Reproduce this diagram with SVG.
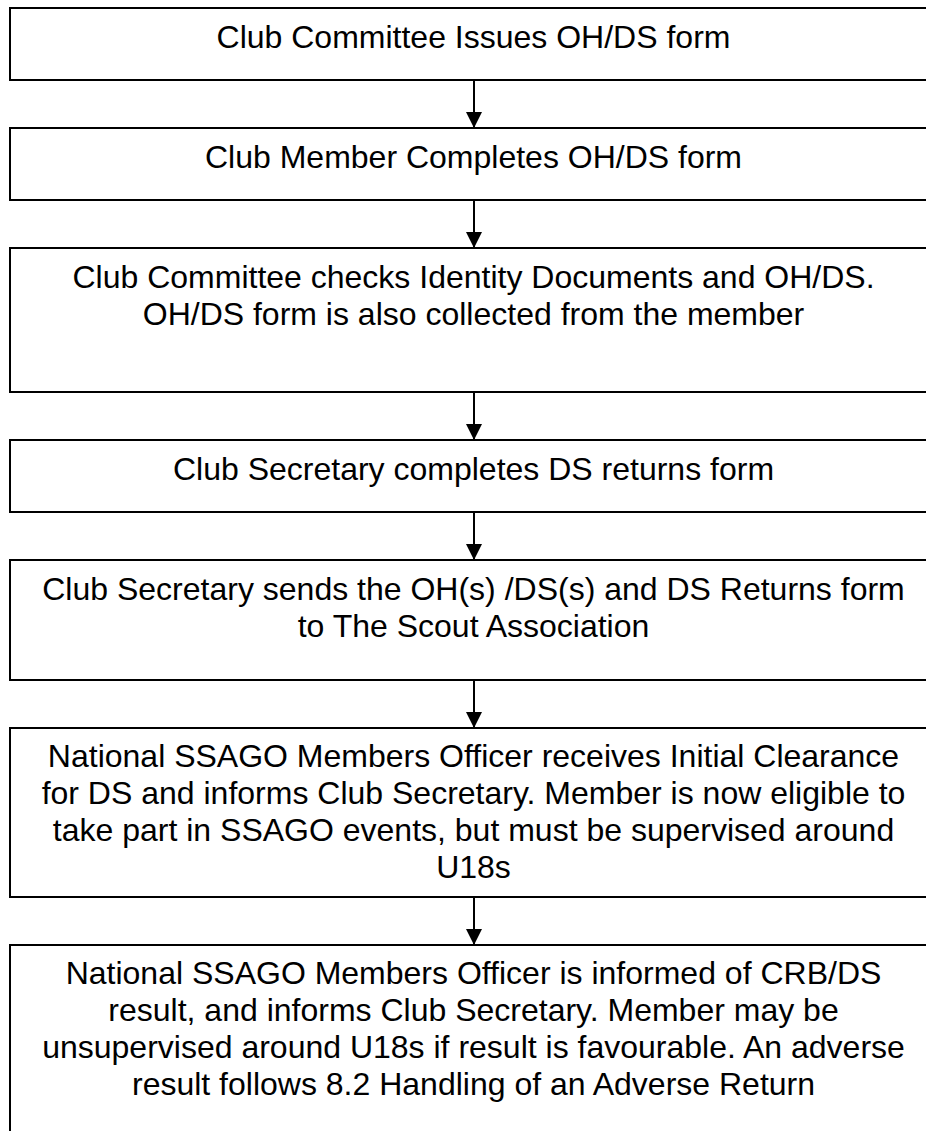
<svg xmlns="http://www.w3.org/2000/svg" width="926" height="1131" viewBox="0 0 926 1131">
<style>
.box{fill:#fff;stroke:#000;stroke-width:2}
.t{font-family:"Liberation Sans",Arial,sans-serif;font-size:32px;fill:#000;text-anchor:middle}
.c{stroke:#000;stroke-width:2;fill:none;marker-end:url(#ah)}
</style>
<defs>
<marker id="ah" viewBox="0 0 16 16" refX="16" refY="8" markerWidth="16" markerHeight="16" markerUnits="userSpaceOnUse" orient="auto">
<path d="M0,0 L16,8 L0,16 z" fill="#000"/>
</marker>
</defs>
<rect width="926" height="1131" fill="#fff"/>
<g id="n1"><rect class="box" x="10" y="8" width="927" height="72"/>
<text class="t" x="473.5" y="48">Club Committee Issues OH/DS form</text></g>
<g id="n2"><rect class="box" x="10" y="128" width="927" height="72"/>
<text class="t" x="473.5" y="168">Club Member Completes OH/DS form</text></g>
<g id="n3"><rect class="box" x="10" y="248" width="927" height="144"/>
<text class="t" x="473.5" y="288">Club Committee checks Identity Documents and OH/DS.</text>
<text class="t" x="473.5" y="325">OH/DS form is also collected from the member</text></g>
<g id="n4"><rect class="box" x="10" y="440" width="927" height="72"/>
<text class="t" x="473.5" y="480">Club Secretary completes DS returns form</text></g>
<g id="n5"><rect class="box" x="10" y="560" width="927" height="120"/>
<text class="t" x="473.5" y="600">Club Secretary sends the OH(s) /DS(s) and DS Returns form</text>
<text class="t" x="473.5" y="637">to The Scout Association</text></g>
<g id="n6"><rect class="box" x="10" y="728" width="927" height="169"/>
<text class="t" x="473.5" y="767">National SSAGO Members Officer receives Initial Clearance</text>
<text class="t" x="473.5" y="804">for DS and informs Club Secretary. Member is now eligible to</text>
<text class="t" x="473.5" y="841">take part in SSAGO events, but must be supervised around</text>
<text class="t" x="473.5" y="878">U18s</text></g>
<g id="n7"><rect class="box" x="10" y="945" width="927" height="200"/>
<text class="t" x="473.5" y="984">National SSAGO Members Officer is informed of CRB/DS</text>
<text class="t" x="473.5" y="1021">result, and informs Club Secretary. Member may be</text>
<text class="t" x="473.5" y="1058">unsupervised around U18s if result is favourable. An adverse</text>
<text class="t" x="473.5" y="1095">result follows 8.2 Handling of an Adverse Return</text></g>
<g id="connectors">
<line class="c" x1="474" y1="80" x2="474" y2="128"/>
<line class="c" x1="474" y1="200" x2="474" y2="248"/>
<line class="c" x1="474" y1="392" x2="474" y2="440"/>
<line class="c" x1="474" y1="512" x2="474" y2="560"/>
<line class="c" x1="474" y1="680" x2="474" y2="728"/>
<line class="c" x1="474" y1="897" x2="474" y2="945"/>
</g>
</svg>
